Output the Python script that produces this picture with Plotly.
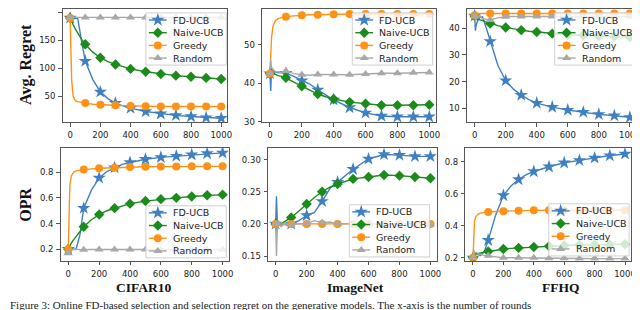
import plotly.graph_objects as go

# ---------------- data ----------------
X = [0, 5, 10, 20, 35, 50, 75, 100, 150, 200, 250, 300, 350, 400, 500, 600, 700, 800, 900, 1000]
series_names = ["FD-UCB", "Naive-UCB", "Greedy", "Random"]

# CIFAR10 - Avg. Regret
cifar_reg_fd = [190, 190, 190, 190, 190, 189, 150, 113, 80, 58, 46, 38, 33, 29, 23, 19, 16, 14, 12, 11]
cifar_reg_naive = [190, 186, 183, 178, 170, 163, 152, 143, 129, 119, 112, 107, 103, 99, 94, 90, 87, 85, 83, 81]
cifar_reg_greedy = [190, 130, 80, 50, 42, 40.5, 39, 38, 36, 35, 34.5, 34, 33.5, 33, 32.5, 32, 32, 32, 32, 32]
cifar_reg_random = [191, 191, 191, 191, 191, 191, 191, 191, 191, 191, 191, 191, 191, 191, 191, 191, 191, 191, 191, 191]

# ImageNet - Avg. Regret
imnet_reg_fd = [42.5, 38, 44, 43, 43, 42.8, 42.7, 42.6, 41.8, 40.7, 39.8, 38.3, 37, 35.7, 33.7, 32.3, 31.5, 31.3, 31.3, 31.3]
imnet_reg_naive = [42.5, 44.5, 43, 42.6, 42.3, 42.0, 41.8, 41.4, 40.3, 39.2, 38.2, 37.2, 36.5, 35.9, 35.1, 34.7, 34.3, 34.3, 34.3, 34.4]
imnet_reg_greedy = [42.5, 48, 52, 55, 56.3, 56.8, 57.1, 57.3, 57.5, 57.7, 57.8, 57.8, 57.9, 57.9, 58.0, 58.0, 58.0, 58.0, 58.0, 58.0]
imnet_reg_random = [42.5, 46, 44, 43.5, 43, 43, 42.8, 43.2, 42.5, 42.2, 42.1, 42.3, 42.3, 42.3, 42.2, 42.4, 42.6, 42.6, 42.7, 42.8]

# FFHQ - Avg. Regret
ffhq_reg_fd = [44.5, 39, 41, 43, 44, 44.2, 40, 35, 26, 20.4, 17.2, 15, 13.3, 12, 10.5, 9.4, 8.6, 7.8, 7.3, 6.7]
ffhq_reg_naive = [44.5, 44, 43.5, 43.3, 43, 42.7, 42.2, 41.7, 40.9, 40.2, 39.6, 39.2, 38.8, 38.5, 37.9, 37.5, 37.3, 37.0, 36.8, 36.6]
ffhq_reg_greedy = [44.8, 45.2, 45.3, 45.4, 45.4, 45.4, 45.4, 45.4, 45.4, 45.4, 45.4, 45.4, 45.4, 45.4, 45.4, 45.4, 45.4, 45.4, 45.4, 45.4]
ffhq_reg_random = [44.5, 42.5, 43.5, 44, 44.5, 43.5, 43.3, 43.0, 43.8, 44.2, 44.3, 44.3, 44.3, 44.3, 44.3, 44.3, 44.3, 44.3, 44.3, 44.3]

# CIFAR10 - OPR
cifar_opr_fd = [0.2, 0.2, 0.2, 0.2, 0.195, 0.2, 0.31, 0.52, 0.66, 0.755, 0.805, 0.835, 0.86, 0.875, 0.9, 0.915, 0.925, 0.935, 0.945, 0.95]
cifar_opr_naive = [0.2, 0.215, 0.23, 0.25, 0.275, 0.3, 0.34, 0.375, 0.43, 0.47, 0.5, 0.52, 0.54, 0.555, 0.575, 0.59, 0.6, 0.61, 0.62, 0.625]
cifar_opr_greedy = [0.2, 0.5, 0.7, 0.77, 0.8, 0.81, 0.815, 0.82, 0.825, 0.83, 0.833, 0.835, 0.838, 0.84, 0.842, 0.843, 0.844, 0.845, 0.845, 0.845]
cifar_opr_random = [0.17, 0.2, 0.195, 0.2, 0.198, 0.2, 0.197, 0.196, 0.198, 0.198, 0.198, 0.198, 0.198, 0.198, 0.198, 0.198, 0.198, 0.198, 0.198, 0.198]

# ImageNet - OPR
imnet_opr_fd = [0.2, 0.243, 0.205, 0.2, 0.198, 0.199, 0.2, 0.2, 0.205, 0.213, 0.218, 0.235, 0.255, 0.265, 0.285, 0.301, 0.308, 0.307, 0.305, 0.305]
imnet_opr_naive = [0.2, 0.185, 0.2, 0.198, 0.2, 0.202, 0.206, 0.21, 0.22, 0.231, 0.241, 0.25, 0.257, 0.262, 0.27, 0.273, 0.276, 0.275, 0.273, 0.271]
imnet_opr_greedy = [0.2, 0.199, 0.2, 0.2, 0.2, 0.2, 0.2, 0.2, 0.2, 0.2, 0.2, 0.2, 0.2, 0.2, 0.2, 0.2, 0.2, 0.2, 0.2, 0.2]
imnet_opr_random = [0.2, 0.15, 0.19, 0.205, 0.195, 0.2, 0.197, 0.199, 0.2, 0.2, 0.205, 0.202, 0.203, 0.2, 0.2, 0.2, 0.2, 0.2, 0.2, 0.199]

# FFHQ - OPR
ffhq_opr_fd = [0.2, 0.21, 0.22, 0.23, 0.22, 0.215, 0.24, 0.31, 0.47, 0.59, 0.65, 0.69, 0.72, 0.74, 0.77, 0.795, 0.81, 0.825, 0.84, 0.85]
ffhq_opr_naive = [0.2, 0.17, 0.22, 0.225, 0.228, 0.23, 0.235, 0.24, 0.248, 0.255, 0.259, 0.262, 0.265, 0.268, 0.273, 0.277, 0.28, 0.282, 0.284, 0.285]
ffhq_opr_greedy = [0.2, 0.35, 0.43, 0.46, 0.475, 0.48, 0.485, 0.487, 0.49, 0.492, 0.494, 0.495, 0.496, 0.497, 0.498, 0.498, 0.498, 0.498, 0.498, 0.498]
ffhq_opr_random = [0.2, 0.25, 0.23, 0.235, 0.225, 0.22, 0.215, 0.213, 0.205, 0.2, 0.2, 0.2, 0.2, 0.2, 0.198, 0.197, 0.196, 0.195, 0.195, 0.195]

datasets = ["CIFAR10", "ImageNet", "FFHQ"]
y_titles = ["Avg. Regret", "OPR"]
caption = ("Figure 3: Online FD-based selection and selection regret on the generative models. "
           "The x-axis is the number of rounds")

panels = [
    [cifar_reg_fd, cifar_reg_naive, cifar_reg_greedy, cifar_reg_random],
    [imnet_reg_fd, imnet_reg_naive, imnet_reg_greedy, imnet_reg_random],
    [ffhq_reg_fd, ffhq_reg_naive, ffhq_reg_greedy, ffhq_reg_random],
    [cifar_opr_fd, cifar_opr_naive, cifar_opr_greedy, cifar_opr_random],
    [imnet_opr_fd, imnet_opr_naive, imnet_opr_greedy, imnet_opr_random],
    [ffhq_opr_fd, ffhq_opr_naive, ffhq_opr_greedy, ffhq_opr_random],
]

# ---------------- styling ----------------
W, H = 640, 310
colors = ["#3f80c2", "#1b8c1b", "#ff9216", "#a8a8a8"]
symbols = ["star", "diamond", "circle", "triangle-up"]
msizes = [10, 8, 8, 8]

# panel pixel boxes: (left, right, top, bottom)
boxes = [
    (55, 221, 1, 116), (256, 431, 1, 116), (462.5, 633, 1, 116),
    (53, 222.5, 142, 257), (262, 432, 142, 257), (461, 628, 142, 257),
]
yranges = [[4, 206], [29.9, 59.3], [4.9, 47.1], [0.11, 0.99], [0.1425, 0.3185], [0.181, 0.889]]
ytickvals = [[50, 100, 150, 200], [30, 40, 50], [10, 20, 30, 40],
             [0.2, 0.4, 0.6, 0.8], [0.15, 0.20, 0.25, 0.30], [0.2, 0.4, 0.6, 0.8]]
ytickfmt = ["d", "d", "d", ".1f", ".2f", ".1f"]
# legend boxes (left px, top px); width/height in px
legbox = [(139, 5), (347, 5), (551, 5), (139, 201), (344, 200), (545, 199)]
LEG_W, LEG_H, LEG_ROW, LEG_FIRST = 81, 53, 12.9, 7.2

tickfont = dict(family="DejaVu Sans", size=8.5, color="#222222")
fig = go.Figure()

for p, ys in enumerate(panels):
    ax = "" if p == 0 else str(p + 1)
    for s, yv in enumerate(ys):
        mcols = [colors[s] if (x % 100 == 0) else "rgba(0,0,0,0)" for x in X]
        fig.add_trace(go.Scatter(
            x=X, y=yv, name=series_names[s], mode="lines+markers",
            xaxis="x" + ax, yaxis="y" + ax, showlegend=False,
            line=dict(color=colors[s], width=1.4),
            marker=dict(symbol=symbols[s], size=msizes[s], color=mcols,
                        line=dict(width=0)),
        ))
    l, r, t, b = boxes[p]
    axis_common = dict(showline=True, mirror=True, linecolor="#555555", linewidth=0.9,
                       ticks="outside", ticklen=3.5, tickwidth=0.9, tickcolor="#555555",
                       showgrid=False, zeroline=False, tickfont=tickfont, fixedrange=True)
    fig.layout["xaxis" + ax] = dict(domain=[l / W, r / W], anchor="y" + ax,
                                    range=[-50, 1040], tickvals=[0, 200, 400, 600, 800, 1000],
                                    ticklabelstandoff=1, **axis_common)
    fig.layout["yaxis" + ax] = dict(domain=[1 - b / H, 1 - t / H], anchor="x" + ax,
                                    range=yranges[p], tickvals=ytickvals[p],
                                    tickformat=ytickfmt[p], ticklabelstandoff=1, **axis_common)

# ---- legends drawn on a full-figure overlay axis in pixel units ----
fig.layout["xaxis7"] = dict(domain=[0, 1], range=[0, W], visible=False, anchor="y7", fixedrange=True)
fig.layout["yaxis7"] = dict(domain=[0, 1], range=[H, 0], visible=False, anchor="x7", fixedrange=True)

shapes = []
annotations = []
for p in range(6):
    lx, ty = legbox[p]
    shapes.append(dict(type="rect", xref="x7", yref="y7", x0=lx, x1=lx + LEG_W,
                       y0=ty, y1=ty + LEG_H, layer="below",
                       line=dict(color="#d0d0d0", width=1),
                       fillcolor="rgba(255,255,255,0.8)"))
    for s in range(4):
        yc = ty + LEG_FIRST + LEG_ROW * s
        fig.add_trace(go.Scatter(x=[lx + 3, lx + 21], y=[yc, yc], mode="lines",
                                 xaxis="x7", yaxis="y7", showlegend=False,
                                 line=dict(color=colors[s], width=1.4)))
        fig.add_trace(go.Scatter(x=[lx + 12], y=[yc], mode="markers",
                                 xaxis="x7", yaxis="y7", showlegend=False,
                                 marker=dict(symbol=symbols[s], size=msizes[s],
                                             color=colors[s], line=dict(width=0))))
        annotations.append(dict(text=series_names[s], x=lx + 25, y=yc, xref="x7", yref="y7",
                                showarrow=False, xanchor="left", yanchor="middle",
                                font=dict(family="DejaVu Sans", size=9.5, color="#222222")))

for txt, yc in zip(y_titles, [57, 200]):
    annotations.append(dict(text=txt, x=18 / W, y=1 - yc / H, xref="paper", yref="paper",
                            showarrow=False, textangle=-90, xanchor="center", yanchor="middle",
                            font=dict(family="Liberation Serif", size=16, color="#111111", weight="bold")))
for txt, xc in zip(datasets, [137, 350, 557]):
    annotations.append(dict(text=txt, x=xc / W, y=1 - 284 / H, xref="paper", yref="paper",
                            showarrow=False, xanchor="center", yanchor="middle",
                            font=dict(family="Liberation Serif", size=13.5, color="#111111", weight="bold")))
annotations.append(dict(text=caption, x=0, y=1 - 302 / H, xref="paper", yref="paper",
                        showarrow=False, xanchor="left", yanchor="middle",
                        font=dict(family="Liberation Serif", size=11, color="#222222")))

fig.update_layout(width=W, height=H, margin=dict(l=0, r=0, t=0, b=0),
                  paper_bgcolor="white", plot_bgcolor="rgba(0,0,0,0)",
                  annotations=annotations, shapes=shapes, hovermode=False,
                  showlegend=False)

fig.write_html("out.html")
